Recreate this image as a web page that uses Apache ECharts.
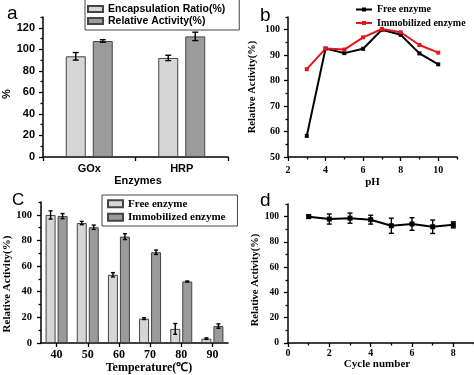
<!DOCTYPE html>
<html>
<head>
<meta charset="utf-8">
<script src="https://cdn.jsdelivr.net/npm/echarts@6/dist/echarts.min.js"></script>
<style>
  html, body { margin: 0; padding: 0; background: #fff; }
  #chart { width: 474px; height: 375px; }
</style>
</head>
<body>
<div id="chart"></div>
<script>
// a: 包封率 / 相对活性
const enzymes = ['GOx', 'HRP'];
const encapRatio = [93.5, 92];
const encapRatioErr = [3.5, 2.5];
const relActivity = [107.7, 112];
const relActivityErr = [1.2, 3.9];

// b: pH
const phValues = [3, 4, 5, 6, 7, 8, 9, 10];
const freePh = [58.3, 92.6, 90.8, 92.5, 100, 98, 90.7, 86.4];
const immPh = [84.5, 92.6, 92.2, 97, 100.3, 99, 94, 91];

// c: temperature
const temps = ['40', '50', '60', '70', '80', '90'];
const freeTemp = [99.9, 93.6, 53.2, 19, 11, 3.4];
const freeTempErr = [3.2, 1.3, 1.7, 0.7, 4.2, 0.6];
const immTemp = [99, 90.3, 83, 70.8, 48, 13.2];
const immTempErr = [2, 1.7, 2.3, 1.7, 0.4, 1.7];

// d: reuse cycles
const cycles = [1, 2, 3, 4, 5, 6, 7, 8];
const cycleActivity = [100, 98.1, 98.8, 97.6, 92.8, 94.2, 92, 93.5];
const cycleErr = [1.3, 4, 4, 3.5, 6, 5, 5.3, 2.4];

// tick values
const aYMajor = [0, 20, 40, 60, 80, 100, 120];
const aYMinor = [10, 30, 50, 70, 90, 110, 130];
const bXMajor = [2, 4, 6, 8, 10];
const bXMinor = [3, 5, 7, 9, 11];
const bYMajor = [50, 60, 70, 80, 90, 100];
const bYMinor = [55, 65, 75, 85, 95, 105];
const cYMajor = [0, 20, 40, 60, 80, 100];
const cYMinor = [10, 30, 50, 70, 90, 110];
const dXMajor = [0, 2, 4, 6, 8];
const dXMinor = [1, 3, 5, 7, 9];
const dYMajor = [0, 20, 40, 60, 80, 100];
const dYMinor = [10, 30, 50, 70, 90, 110];

const SANS = "'Liberation Sans', Arial, sans-serif";
const SERIF = "'Liberation Serif', 'Times New Roman', serif";

function axis(o) {
  return {
    type: o.type || 'value',
    gridIndex: o.grid,
    position: o.pos,
    min: o.min,
    max: o.max,
    data: o.data,
    name: o.name || '',
    nameLocation: 'middle',
    nameGap: o.nameGap || 0,
    nameTextStyle: {
      color: '#000',
      fontFamily: o.font,
      fontWeight: 'bold',
      fontSize: o.nameSize || 11,
      padding: o.namePad || 0,
    },
    axisLine: { show: !o.minor, onZero: false, lineStyle: { color: '#000', width: 1.5 } },
    axisTick: {
      show: true,
      length: o.minor ? 2.5 : 4,
      alignWithLabel: !!o.align,
      customValues: o.ticks,
      lineStyle: { color: '#000', width: 1.3 },
    },
    axisLabel: {
      show: !o.minor,
      customValues: o.type === 'category' ? undefined : o.ticks,
      margin: o.margin || 6,
      color: '#000',
      fontFamily: o.font,
      fontWeight: 'bold',
      fontSize: o.size || 10,
    },
    splitLine: { show: false },
  };
}

// 误差棒
function errorBars(xi, yi, xs, ys, errs, dx, cap) {
  return {
    type: 'custom',
    xAxisIndex: xi,
    yAxisIndex: yi,
    z: 10,
    silent: true,
    data: xs.map((x, i) => [x, ys[i], errs[i]]),
    renderItem(params, api) {
      const x = api.value(0);
      const y = api.value(1);
      const e = api.value(2);
      const hi = api.coord([x, y + e]);
      const lo = api.coord([x, y - e]);
      const cx = hi[0] + dx;
      const style = { stroke: '#000', lineWidth: 1.4 };
      return {
        type: 'group',
        children: [
          { type: 'line', shape: { x1: cx, y1: hi[1], x2: cx, y2: lo[1] }, style },
          { type: 'line', shape: { x1: cx - cap, y1: hi[1], x2: cx + cap, y2: hi[1] }, style },
          { type: 'line', shape: { x1: cx - cap, y1: lo[1], x2: cx + cap, y2: lo[1] }, style },
        ],
      };
    },
  };
}

const idx = arr => arr.map((_, i) => i);
const lightBar = { color: '#d6d6d6', borderColor: '#444', borderWidth: 1 };
const darkBar = { color: '#9b9b9b', borderColor: '#444', borderWidth: 1 };

const myChart = echarts.init(document.getElementById('chart'));

const option = {
  animation: false,
  backgroundColor: '#ffffff',
  grid: [
    { left: 41, top: 17, width: 187, height: 140 },
    { left: 288, top: 17, width: 169, height: 140 },
    { left: 41, top: 202, width: 187, height: 141 },
    { left: 288, top: 204, width: 186, height: 139 },
  ],
  xAxis: [
    axis({ type: 'category', grid: 0, pos: 'bottom', data: enzymes, font: SANS, size: 11, margin: 6,
      name: 'Enzymes', nameGap: 18, nameSize: 11, namePad: [0, 0, 0, 5] }),
    axis({ grid: 1, pos: 'bottom', min: 2, max: 11, ticks: bXMajor, font: SERIF, size: 10, margin: 8,
      name: 'pH', nameGap: 20, nameSize: 11 }),
    axis({ type: 'category', grid: 2, pos: 'bottom', data: temps, align: true, font: SERIF, size: 12, margin: 6,
      name: 'Temperature(\u2103)', nameGap: 19, nameSize: 12, namePad: [0, 0, 0, 29] }),
    axis({ grid: 3, pos: 'bottom', min: 0, max: 9, ticks: dXMajor, font: SERIF, size: 10, margin: 5,
      name: 'Cycle number', nameGap: 16, nameSize: 11, namePad: [0, 8, 0, 0] }),
    axis({ grid: 1, pos: 'bottom', min: 2, max: 11, ticks: bXMinor, minor: true }),
    axis({ grid: 3, pos: 'bottom', min: 0, max: 9, ticks: dXMinor, minor: true }),
  ],
  yAxis: [
    axis({ grid: 0, pos: 'left', min: 0, max: 130, ticks: aYMajor, font: SANS, size: 11, margin: 8,
      name: '%', nameGap: 31, nameSize: 11, namePad: [0, 14, 0, 0] }),
    axis({ grid: 1, pos: 'left', min: 50, max: 105, ticks: bYMajor, font: SERIF, size: 10, margin: 8,
      name: 'Relative Activity(%)', nameGap: 30, nameSize: 10.5 }),
    axis({ grid: 2, pos: 'left', min: 0, max: 110, ticks: cYMajor, font: SERIF, size: 10.5, margin: 9,
      name: 'Relative Activity(%)', nameGap: 28, nameSize: 11, namePad: [0, 23, 0, 0] }),
    axis({ grid: 3, pos: 'left', min: 0, max: 110, ticks: dYMajor, font: SERIF, size: 9.5, margin: 9,
      name: 'Relative Activity(%)', nameGap: 23, nameSize: 10.5, namePad: [0, 13, 0, 0] }),
    axis({ grid: 0, pos: 'left', min: 0, max: 130, ticks: aYMinor, minor: true }),
    axis({ grid: 1, pos: 'left', min: 50, max: 105, ticks: bYMinor, minor: true }),
    axis({ grid: 2, pos: 'left', min: 0, max: 110, ticks: cYMinor, minor: true }),
    axis({ grid: 3, pos: 'left', min: 0, max: 110, ticks: dYMinor, minor: true }),
  ],
  legend: [
    {
      orient: 'vertical', left: 85, top: -1, selectedMode: false, icon: 'rect',
      data: ['Encapsulation Ratio(%)', 'Relative Activity(%)'],
      itemWidth: 15, itemHeight: 6, itemGap: 0,
      padding: [4, 14, 3, 2],
      borderColor: '#444', borderWidth: 1,
      textStyle: { fontFamily: SANS, fontWeight: 'bold', fontSize: 10.5, color: '#000', lineHeight: 12 },
    },
    {
      orient: 'vertical', left: 355, top: 3, selectedMode: false,
      data: ['Free enzyme (pH)', 'Immobilized enzyme (pH)'],
      formatter: name => name.replace(' (pH)', ''),
      itemWidth: 16, itemHeight: 5, itemGap: 0.5, padding: 0,
      textStyle: { fontFamily: SERIF, fontWeight: 'bold', fontSize: 10, color: '#000', lineHeight: 13 },
    },
    {
      orient: 'vertical', left: 102, top: 195, selectedMode: false, icon: 'rect',
      data: ['Free enzyme', 'Immobilized enzyme'],
      itemWidth: 15, itemHeight: 7, itemGap: 0,
      padding: [2, 12, 2, 5],
      borderColor: '#444', borderWidth: 1,
      textStyle: { fontFamily: SERIF, fontWeight: 'bold', fontSize: 11, color: '#000', lineHeight: 13.5 },
    },
  ],
  graphic: [
    { type: 'text', x: 7, y: 13.5, style: { text: 'a', font: '19px ' + SANS, fill: '#000', verticalAlign: 'middle' } },
    { type: 'text', x: 260, y: 15.5, style: { text: 'b', font: '19px ' + SANS, fill: '#000', verticalAlign: 'middle' } },
    { type: 'text', x: 12, y: 200.5, style: { text: 'C', font: '17px ' + SANS, fill: '#000', verticalAlign: 'middle' } },
    { type: 'text', x: 260, y: 200.5, style: { text: 'd', font: '19px ' + SANS, fill: '#000', verticalAlign: 'middle' } },
  ],
  series: [
    // a
    { type: 'bar', name: 'Encapsulation Ratio(%)', xAxisIndex: 0, yAxisIndex: 0,
      data: encapRatio, barWidth: 20, barGap: '35%', itemStyle: lightBar },
    { type: 'bar', name: 'Relative Activity(%)', xAxisIndex: 0, yAxisIndex: 0,
      data: relActivity, barWidth: 20, barGap: '35%', itemStyle: darkBar },
    errorBars(0, 0, idx(enzymes), encapRatio, encapRatioErr, -13.5, 3),
    errorBars(0, 0, idx(enzymes), relActivity, relActivityErr, 13.5, 3),
    // b
    { type: 'line', name: 'Free enzyme (pH)', xAxisIndex: 1, yAxisIndex: 1,
      data: phValues.map((p, i) => [p, freePh[i]]),
      symbol: 'rect', symbolSize: 4,
      lineStyle: { color: '#000', width: 2 }, itemStyle: { color: '#000' } },
    { type: 'line', name: 'Immobilized enzyme (pH)', xAxisIndex: 1, yAxisIndex: 1,
      data: phValues.map((p, i) => [p, immPh[i]]),
      symbol: 'rect', symbolSize: 4,
      lineStyle: { color: '#e3161c', width: 2 }, itemStyle: { color: '#e3161c' } },
    // c
    { type: 'bar', name: 'Free enzyme', xAxisIndex: 2, yAxisIndex: 2,
      data: freeTemp, barWidth: 10, barGap: '20%', itemStyle: lightBar },
    { type: 'bar', name: 'Immobilized enzyme', xAxisIndex: 2, yAxisIndex: 2,
      data: immTemp, barWidth: 10, barGap: '20%', itemStyle: darkBar },
    errorBars(2, 2, idx(temps), freeTemp, freeTempErr, -6, 2),
    errorBars(2, 2, idx(temps), immTemp, immTempErr, 6, 2),
    // d
    { type: 'line', name: 'Cycle', xAxisIndex: 3, yAxisIndex: 3,
      data: cycles.map((c, i) => [c, cycleActivity[i]]),
      symbol: 'rect', symbolSize: 5,
      lineStyle: { color: '#000', width: 2 }, itemStyle: { color: '#000' } },
    errorBars(3, 3, cycles, cycleActivity, cycleErr, 0, 2.5),
  ],
};

myChart.setOption(option);
</script>
</body>
</html>
